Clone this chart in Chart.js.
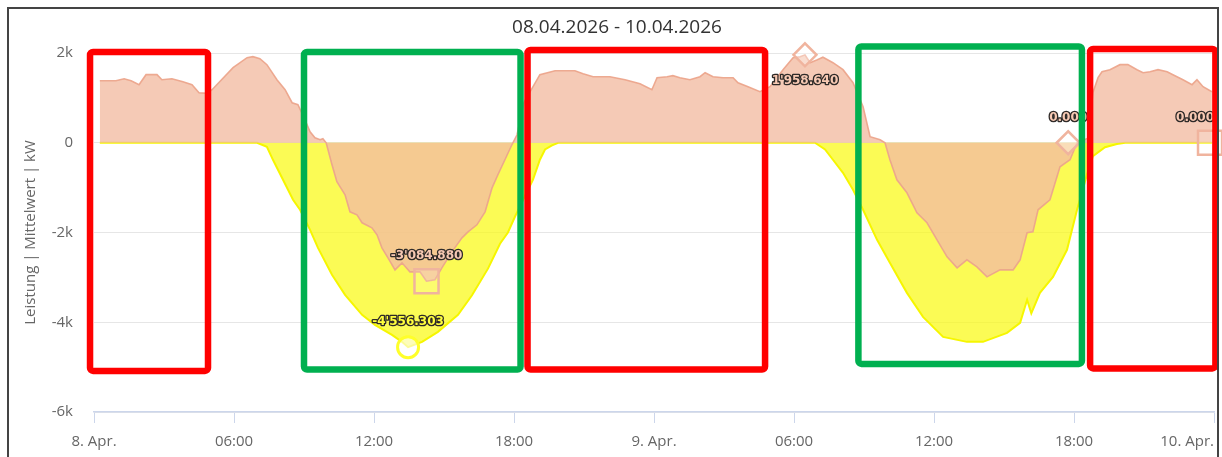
<!DOCTYPE html>
<html><head><meta charset="utf-8">
<script src="https://cdn.jsdelivr.net/npm/chart.js@4.4.1/dist/chart.umd.min.js"></script>
<style>
html,body{margin:0;padding:0;background:#fff;overflow:hidden;width:1222px;height:457px;}
#c{position:absolute;left:0;top:0;}
#frame{position:absolute;left:7px;top:7px;width:1208px;height:520px;border:2px solid #444;pointer-events:none;}
</style></head><body>
<canvas id="c" width="1222" height="457"></canvas>
<div id="frame"></div>
<script>
// ---------- data (hours since 08.04.2026 00:00) ----------
const chartTitle = '08.04.2026 - 10.04.2026';
const yAxisTitle = 'Leistung | Mittelwert | kW';
const xTickHours = [0, 6, 12, 18, 24, 30, 36, 42, 48];
const xTickLabels = ['8. Apr.', '06:00', '12:00', '18:00', '9. Apr.', '06:00', '12:00', '18:00', '10. Apr.'];
const yTickValues = [-6000, -4000, -2000, 0, 2000];
const yTickLabels = ['-6k', '-4k', '-2k', '0', '2k'];

// salmon series (grid / net power)
const netHours = [0.25,0.94,1.29,1.59,1.93,2.23,2.70,2.91,3.34,3.81,4.20,4.50,4.84,5.06,5.96,6.56,6.81,7.11,7.41,7.84,8.19,8.49,8.74,9.04,9.26,9.47,9.69,9.81,9.95,10.20,10.41,10.76,10.97,11.27,11.49,11.91,12.13,12.34,12.60,12.90,13.20,13.54,13.97,14.25,14.61,14.91,15.34,15.77,16.03,16.41,16.76,17.06,17.31,17.61,17.91,18.13,18.43,19.11,19.76,20.61,20.96,21.39,22.11,22.76,23.40,23.91,24.13,24.56,24.81,25.11,25.54,25.97,26.19,26.53,26.96,27.39,27.60,28.03,28.54,28.97,29.53,29.96,30.26,30.47,30.69,31.00,31.24,31.67,32.10,32.53,32.96,33.26,33.69,33.90,34.11,34.41,34.84,35.27,35.70,36.13,36.56,36.99,37.41,37.84,38.27,38.83,39.39,39.69,39.99,40.24,40.46,40.97,41.40,41.83,42.13,42.60,42.81,43.03,43.20,43.54,43.97,44.31,44.70,44.96,45.26,45.60,45.99,46.24,46.67,47.06,47.27,47.53,47.91];
const netValues = [1383,1383,1427,1380,1294,1517,1517,1405,1427,1360,1294,1115,1100,1182,1673,1895,1918,1873,1740,1405,1182,892,847,513,245,111,67,89,0,-490,-870,-1160,-1539,-1606,-1784,-1896,-2052,-2342,-2565,-2832,-2676,-2877,-2877,-3084.88,-3055,-2788,-2431,-2119,-1985,-1829,-1539,-1004,-714,-379,-45,178,900,1517,1606,1606,1540,1472,1472,1405,1316,1182,1450,1472,1495,1450,1405,1472,1561,1472,1450,1450,1338,1249,1137,1249,1628,1895,1918,1958.64,1784,1850,1905,1784,1628,1338,803,134,67,0,-379,-825,-1115,-1561,-1784,-2163,-2542,-2788,-2609,-2765,-2988,-2832,-2832,-2609,-2007,-1985,-1494,-1271,-535,-379,0,100,1115,1450,1583,1628,1740,1740,1628,1561,1583,1628,1583,1517,1405,1294,1405,1249,1137];

// yellow series (PV production)
const pvHours = [0.25,6.99,7.41,7.67,8.10,8.53,8.83,9.26,9.60,10.20,10.76,11.49,12.04,12.77,13.20,13.46,14.06,14.74,15.60,16.20,16.89,17.40,17.74,18.04,18.39,18.81,19.11,19.33,19.63,19.89,30.90,31.33,31.67,32.10,32.53,32.96,33.56,34.11,34.84,35.53,36.39,37.41,38.10,39.13,39.69,39.99,40.17,40.54,41.10,41.70,42.13,42.56,42.81,43.33,43.84,44.19,47.91];
const pvValues = [0,0,-90,-380,-825,-1271,-1494,-1940,-2342,-2943,-3389,-3835,-4058,-4281,-4437,-4556.303,-4437,-4214,-3835,-3400,-2800,-2250,-2000,-1650,-1271,-825,-379,-150,-60,0,0,-150,-379,-669,-1049,-1494,-2163,-2676,-3345,-3880,-4326,-4437,-4437,-4237,-4014,-3500,-3800,-3345,-2988,-2386,-1494,-700,-300,-100,-30,0,0];

// extreme value markers
const maxMarkerHours = [30.47, 41.75];
const maxMarkerValues = [1958.640, 0];
const minMarkerHours = [14.25, 47.83];
const minMarkerValues = [-3084.880, 0];
const pvMinHours = [13.46];
const pvMinValues = [-4556.303];

// highlight boxes (in axis units)
const boxStart  = [-0.17, 9.00, 18.58, 32.76, 42.69];
const boxEnd    = [4.886, 18.28, 28.76, 42.34, 48.06];
const boxTop    = [2022, 2022, 2066, 2144, 2089];
const boxBottom = [-5085, -5052, -5052, -4929, -5029];
const boxKind   = ['red', 'green', 'red', 'green', 'red'];

// ---------- helpers ----------
const pts = (xs, ys) => xs.map((x, i) => ({x: x, y: ys[i]}));
function fmt(v) {
  const s = Math.abs(v).toFixed(3);
  let [i, d] = s.split('.');
  i = i.replace(/\B(?=(\d{3})+(?!\d))/g, "'");
  return (v < 0 ? '-' : '') + i + '.' + d;
}

const labelPlugin = {
  id: 'markerLabels',
  afterDatasetsDraw(chart) {
    const ctx = chart.ctx, area = chart.chartArea;
    ctx.save();
    ctx.font = 'bold 12px "DejaVu Sans"';
    ctx.textAlign = 'center';
    ctx.textBaseline = 'middle';
    ctx.lineJoin = 'round';
    chart.data.datasets.forEach((ds, i) => {
      if (!ds.labelColor) return;
      const meta = chart.getDatasetMeta(i);
      meta.data.forEach((pt, j) => {
        const text = fmt(ds.data[j].y);
        const w = ctx.measureText(text).width;
        let x = pt.x, y = pt.y - 25;
        if (y - 6 < area.top) y = pt.y + 26;
        if (x + w / 2 > area.right) x = area.right - w / 2;
        if (x - w / 2 < area.left) x = area.left + w / 2;
        ctx.lineWidth = 2.6;
        ctx.strokeStyle = '#2e2a28';
        ctx.strokeText(text, x, y);
        ctx.fillStyle = ds.labelColor;
        ctx.fillText(text, x, y);
      });
    });
    ctx.restore();
  }
};

const boxPlugin = {
  id: 'boxes',
  afterDraw(chart) {
    const ctx = chart.ctx, xs = chart.scales.x, ys = chart.scales.y;
    const colors = {red: '#ff0000', green: '#00b050'};
    ctx.save();
    ctx.lineWidth = 6.5;
    ctx.lineJoin = 'round';
    boxStart.forEach((s, i) => {
      const x0 = xs.getPixelForValue(s), x1 = xs.getPixelForValue(boxEnd[i]);
      const y0 = ys.getPixelForValue(boxTop[i]), y1 = ys.getPixelForValue(boxBottom[i]);
      ctx.strokeStyle = colors[boxKind[i]];
      ctx.beginPath();
      ctx.roundRect(x0, y0, x1 - x0, y1 - y0, 3);
      ctx.stroke();
    });
    ctx.restore();
  }
};

const lastLabelAlign = {
  id: 'lastLabelAlign',
  beforeDraw(chart) {
    const s = chart.scales.x;
    const items = s.getLabelItems(chart.chartArea);
    if (items.length) items[items.length - 1].options.textAlign = 'right';
  }
};

Chart.defaults.font.family = "'Open Sans', sans-serif";
Chart.defaults.color = '#666';

new Chart(document.getElementById('c'), {
  type: 'line',
  data: {
    datasets: [
      {
        label: 'Max', data: pts(maxMarkerHours, maxMarkerValues), showLine: false, clip: false,
        pointStyle: 'rectRot', pointRadius: 11.5, pointBorderWidth: 2.5,
        pointBorderColor: '#f0b49e', pointBackgroundColor: 'rgba(255,255,255,0.35)',
        labelColor: '#f7c9b3'
      },
      {
        label: 'Min', data: pts(minMarkerHours, minMarkerValues), showLine: false, clip: false,
        pointStyle: 'rect', pointRadius: 17, pointBorderWidth: 2.5,
        pointBorderColor: '#f0b49e', pointBackgroundColor: 'rgba(255,255,255,0.15)',
        labelColor: '#f7c9b3'
      },
      {
        label: 'PV Min', data: pts(pvMinHours, pvMinValues), showLine: false, clip: false,
        pointStyle: 'circle', pointRadius: 10.5, pointBorderWidth: 3,
        pointBorderColor: '#ffff2a', pointBackgroundColor: 'rgba(255,255,255,0.6)',
        labelColor: '#ffff3c'
      },
      {
        label: 'Netz', data: pts(netHours, netValues), fill: 'origin',
        borderColor: 'rgba(236,165,140,0.95)', borderWidth: 1.6,
        backgroundColor: 'rgba(242,187,161,0.78)', pointRadius: 0, tension: 0
      },
      {
        label: 'PV', data: pts(pvHours, pvValues), fill: 'origin',
        borderColor: '#f6f600', borderWidth: 2,
        backgroundColor: 'rgba(250,250,20,0.72)', pointRadius: 0, tension: 0
      }
    ]
  },
  options: {
    responsive: false,
    animation: false,
    events: [],
    layout: {autoPadding: false, padding: {left: 20, right: 8, top: 8, bottom: 0}},
    plugins: {
      legend: {display: false},
      tooltip: {enabled: false},
      title: {
        display: true, text: chartTitle, color: '#333',
        font: {size: 19, weight: 'normal'},
        padding: {top: 8.6, bottom: 13.6}
      }
    },
    scales: {
      x: {
        type: 'linear', min: 0, max: 48,
        afterFit(scale) { scale.height = 45; scale.paddingLeft = 0; scale.paddingRight = 0; },
        afterBuildTicks(scale) { scale.ticks = xTickHours.map(v => ({value: v})); },
        ticks: {
          autoSkip: false, maxRotation: 0, padding: 10, color: '#666',
          font: {size: 15},
          callback: (v) => { const k = xTickHours.indexOf(v); return k >= 0 ? xTickLabels[k] : ''; }
        },
        grid: {drawOnChartArea: false, drawTicks: true, tickLength: 11, tickColor: '#ccd6eb', tickWidth: 1},
        border: {display: true, color: '#ccd6eb', width: 1.5}
      },
      y: {
        min: -6000, max: 2000,
        afterFit(scale) { scale.width = 74; },
        afterBuildTicks(scale) { scale.ticks = yTickValues.map(v => ({value: v})); },
        ticks: {
          padding: 21, color: '#666', font: {size: 15},
          callback: (v) => { const k = yTickValues.indexOf(v); return k >= 0 ? yTickLabels[k] : ''; }
        },
        grid: {color: '#e6e6e6', lineWidth: 1, drawTicks: false},
        border: {display: false},
        title: {display: true, text: yAxisTitle, color: '#666', font: {size: 15}, padding: {top: 2, bottom: 2}}
      }
    }
  },
  plugins: [labelPlugin, boxPlugin, lastLabelAlign]
});
</script>
</body></html>
